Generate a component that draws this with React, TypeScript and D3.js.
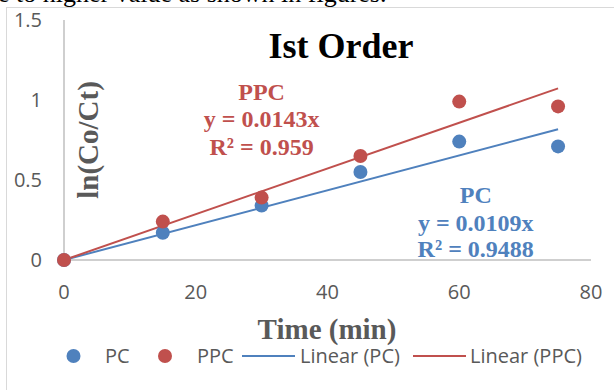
import React from 'react';
import * as d3 from 'd3';

// sampling times (min)
const times = [0, 15, 30, 45, 60, 75];
// ln(Co/Ct)
const pcValues = [0, 0.17, 0.34, 0.55, 0.74, 0.71];
const ppcValues = [0, 0.24, 0.39, 0.65, 0.99, 0.96];
// trendline slopes (through origin)
const pcSlope = 0.0109;
const ppcSlope = 0.0143;
const xTicks = [0, 20, 40, 60, 80];
const yTicks = [0, 0.5, 1, 1.5];

const BLUE = '#4F81BD';
const RED = '#C0504D';
const GREY = '#595959';
const SANS = '"Open Sans", sans-serif';
const SERIF = '"Liberation Serif", "Times New Roman", serif';

const App = () => {
  const width = 614;
  const height = 390;

  const x = d3.scaleLinear().domain([0, 80]).range([64, 591]);
  const y = d3.scaleLinear().domain([0, 1.5]).range([260, 20]);

  const line = d3.line<[number, number]>()
    .x(d => x(d[0]))
    .y(d => y(d[1]));

  const tMax = times[times.length - 1];
  const pcTrend: [number, number][] = [[0, 0], [tMax, pcSlope * tMax]];
  const ppcTrend: [number, number][] = [[0, 0], [tMax, ppcSlope * tMax]];

  const pcPts = times.map((t, i) => [t, pcValues[i]]);
  const ppcPts = times.map((t, i) => [t, ppcValues[i]]);

  return (
    <svg width={width} height={height} style={{ position: 'absolute', left: 0, top: 0, background: '#fff' }}>
      {/* cut-off line of document text above the chart */}
      <text x={-2} y={2} fontFamily={SERIF} fontSize={26} fill="#000">
        e to higher value as shown in figures.
      </text>

      {/* chart frame */}
      <rect x={6.5} y={7.5} width={640} height={400} fill="#fff" stroke="#d9d9d9" strokeWidth={1} />

      {/* axes */}
      <line x1={x(0)} x2={x(0)} y1={y(1.5)} y2={y(0)} stroke="#bfbfbf" strokeWidth={1.5} />
      <line x1={x(0)} x2={x(80)} y1={y(0)} y2={y(0)} stroke="#bfbfbf" strokeWidth={1.5} />

      {yTicks.map(t => (
        <text key={'y' + t} x={42} y={y(t)} dy="0.35em" textAnchor="end"
          fontFamily={SANS} fontSize={20} fill={GREY}>{t}</text>
      ))}
      {xTicks.map(t => (
        <text key={'x' + t} x={x(t)} y={299} textAnchor="middle"
          fontFamily={SANS} fontSize={20} fill={GREY}>{t}</text>
      ))}

      {/* title */}
      <text x={341} y={58} textAnchor="middle" fontFamily={SERIF} fontWeight="bold" fontSize={36} fill="#000">
        Ist Order
      </text>

      {/* axis titles */}
      <text transform="translate(98,140) rotate(-90)" textAnchor="middle"
        fontFamily={SERIF} fontWeight="bold" fontSize={29} fill={GREY}>ln(Co/Ct)</text>
      <text x={327} y={339} textAnchor="middle"
        fontFamily={SERIF} fontWeight="bold" fontSize={29} fill={GREY}>Time (min)</text>

      {/* trendlines */}
      <path d={line(pcTrend) || ''} fill="none" stroke={BLUE} strokeWidth={2} />
      <path d={line(ppcTrend) || ''} fill="none" stroke={RED} strokeWidth={2} />

      {/* points */}
      {pcPts.map(([t, v], i) => (
        <circle key={'pc' + i} cx={x(t)} cy={y(v)} r={7} fill={BLUE} />
      ))}
      {ppcPts.map(([t, v], i) => (
        <circle key={'ppc' + i} cx={x(t)} cy={y(v)} r={7} fill={RED} />
      ))}

      {/* trendline labels */}
      <g fontFamily={SERIF} fontWeight="bold" fontSize={24} fill={RED} textAnchor="middle">
        <text x={x(30)} y={100}>PPC</text>
        <text x={x(30)} y={127}>y = {ppcSlope}x</text>
        <text x={x(30)} y={155}>R² = 0.959</text>
      </g>
      <g fontFamily={SERIF} fontWeight="bold" fontSize={24} fill={BLUE} textAnchor="middle">
        <text x={x(62.5)} y={203}>PC</text>
        <text x={x(62.5)} y={231}>y = {pcSlope}x</text>
        <text x={x(62.5)} y={257}>R² = 0.9488</text>
      </g>

      {/* legend */}
      <g fontFamily={SANS} fontSize={20} fill={GREY}>
        <circle cx={73.5} cy={356} r={7} fill={BLUE} />
        <text x={105} y={363}>PC</text>
        <circle cx={165} cy={356} r={7} fill={RED} />
        <text x={197} y={363}>PPC</text>
        <line x1={242} x2={295} y1={356} y2={356} stroke={BLUE} strokeWidth={2} />
        <text x={300} y={363}>Linear (PC)</text>
        <line x1={413} x2={466} y1={356} y2={356} stroke={RED} strokeWidth={2} />
        <text x={470} y={363}>Linear (PPC)</text>
      </g>
    </svg>
  );
};

export default App;
